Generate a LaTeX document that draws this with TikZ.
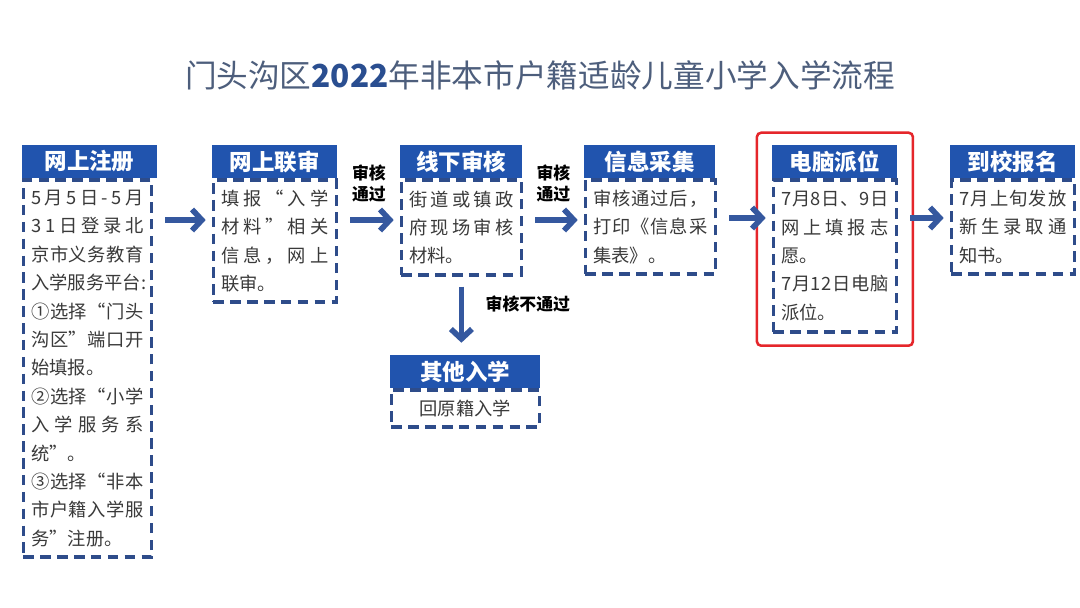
\documentclass[tikz,border=0pt]{standalone}
\usepackage{fontspec}
\setmainfont{Noto Sans CJK SC}
\usetikzlibrary{positioning,arrows.meta,fit}
\definecolor{headblue}{HTML}{2154AE}
\definecolor{dashnavy}{HTML}{2E4C8A}
\definecolor{arrowblue}{HTML}{35589F}
\definecolor{titlegray}{HTML}{4D5E7C}
\definecolor{titleblue}{HTML}{2A4E90}
\definecolor{bodytext}{HTML}{3A3A3A}
\definecolor{framered}{HTML}{E5262B}
% spread one line over the full width
\def\jlfirst#1{\ifx#1\relax\else#1\expandafter\jlnext\fi}
\def\jlnext#1{\ifx#1\relax\else\hfil#1\expandafter\jlnext\fi}
\newcommand{\jl}[1]{\makebox[\linewidth][s]{\jlfirst#1\relax}}
\tikzset{
  head/.style={fill=headblue, text=white, font=\fontsize{16}{18}\selectfont\bfseries, minimum height=0.825cm, inner sep=0pt},
  body/.style={draw=dashnavy, line width=2.4pt, dash pattern=on 7.5pt off 4.5pt, anchor=north west, align=left, text=bodytext, font=\fontsize{13}{20.2}\selectfont, inner xsep=0.2cm, inner ysep=0pt},
  flow/.style={draw=arrowblue, line width=4pt, -{Straight Barb[length=7pt,width=15pt]}, shorten <=0.3cm, shorten >=0.15cm},
  passlbl/.style={font=\fontsize{12}{15}\selectfont\bfseries, align=center, inner sep=1pt},
}
\begin{document}
\begin{tikzpicture}[x=0.025cm, y=-0.025cm]
  \path[fill=white, use as bounding box] (0,0) rectangle (1080,607);
  \node[text=titlegray, font=\fontsize{22.5}{26}\selectfont] (title) at (540,75) {门头沟区{\bfseries\color{titleblue}2022}年非本市户籍适龄儿童小学入学流程};
  \coordinate (row) at (0,220);
  \coordinate (row2) at (0,218);

  \node[head, minimum width=3.375cm] (zc) at (89.5,161.5) {网上注册};
  \node[body, text width=2.8cm, minimum height=9.425cm] (zcb) at (zc.south west) {\jl{5月5日-5月}\\\jl{31日登录北}\\\jl{京市义务教育}\\入学服务平台:\\\jl{①选择“门头}\\\jl{沟区”端口开}\\始填报。\\\jl{②选择“小学}\\\jl{入学服务系}\\统”。\\\jl{③选择“非本}\\\jl{市户籍入学服}\\务”注册。};

  \node[head, minimum width=3.125cm] (ls) at (274.5,161.5) {网上联审};
  \node[body, text width=2.675cm, minimum height=3.05cm] (lsb) at (ls.south west) {\jl{填报“入学}\\\jl{材料”相关}\\\jl{信息，网上}\\联审。};

  \node[head, minimum width=3.05cm] (xx) at (461,161.5) {线下审核};
  \node[body, text width=2.6cm, minimum height=2.375cm] (xxb) at (xx.south west) {\jl{街道或镇政}\\\jl{府现场审核}\\材料。};

  \node[head, minimum width=3.275cm] (cj) at (649.5,161.5) {信息采集};
  \node[body, text width=2.85cm, minimum height=2.35cm] (cjb) at (cj.south west) {\jl{审核通过后，}\\\jl{打印《信息采}\\集表》。};

  \node[head, minimum width=3.125cm] (pw) at (834.5,161.5) {电脑派位};
  \node[body, text width=2.675cm, minimum height=3.8cm] (pwb) at (pw.south west) {\jl{7月8日、9日}\\\jl{网上填报志}\\愿。\\\jl{7月12日电脑}\\派位。};

  \node[head, minimum width=3.125cm] (bm) at (1012.5,161.5) {到校报名};
  \node[body, text width=2.675cm, minimum height=2.35cm] (bmb) at (bm.south west) {\jl{7月上旬发放}\\\jl{新生录取通}\\知书。};

  \node[head, minimum width=3.75cm] (qt) at (465,371.5) {其他入学};
  \node[body, text width=3.3cm, align=center, minimum height=0.925cm] (qtb) at (qt.south west) {回原籍入学};

  \node[draw=framered, line width=1.8pt, rounded corners=3pt, inner xsep=0.37cm, inner ysep=0.3cm, fit=(pw)(pwb)] (hl) {};

  \draw[flow] (zcb.east |- row) -- (ls.west |- row);
  \draw[flow] (lsb.east |- row) -- node[passlbl, above=0.35cm] (pass1) {审核\\通过} (xx.west |- row);
  \draw[flow] (xxb.east |- row) -- node[passlbl, above=0.35cm] (pass2) {审核\\通过} (cj.west |- row);
  \draw[flow] (cjb.east |- row2) -- (pw.west |- row2);
  \draw[flow] (pwb.east |- row2) -- (bm.west |- row2);
  \draw[flow, shorten <=0.25cm, shorten >=0.3cm] (xxb.south) -- node[passlbl, pos=0.35, right=0.5cm] (nopass) {审核不通过} (xxb.south |- qt.north);
\end{tikzpicture}
\end{document}
